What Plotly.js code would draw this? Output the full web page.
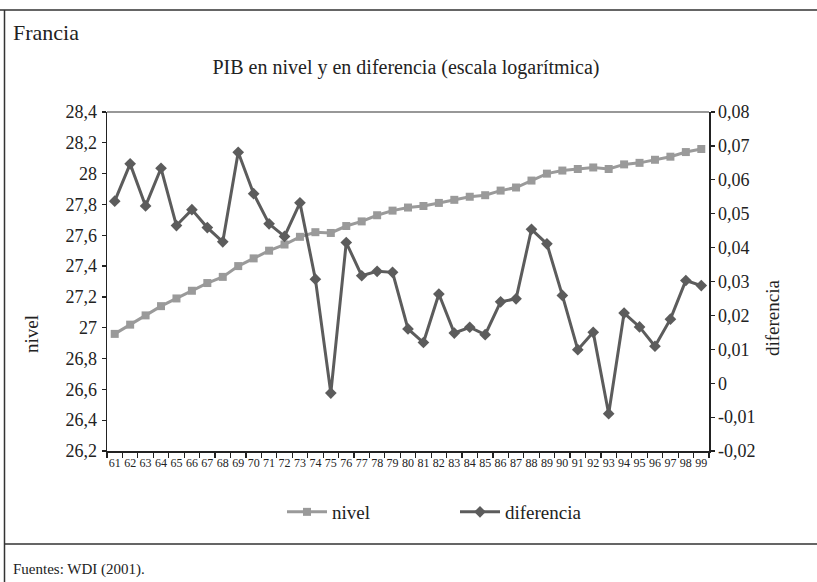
<!DOCTYPE html>
<html>
<head>
<meta charset="utf-8">
<script src="https://cdn.plot.ly/plotly-3.0.1.min.js"></script>
<style>
html,body{margin:0;padding:0;background:#fff;}
#chart{width:817px;height:582px;}
</style>
</head>
<body>
<div id="chart"></div>
<script>
const years = ['61','62','63','64','65','66','67','68','69','70','71','72','73','74','75','76','77','78','79','80',
  '81','82','83','84','85','86','87','88','89','90','91','92','93','94','95','96','97','98','99'];
const nivel = [26.96,27.02,27.08,27.14,27.19,27.24,27.29,27.33,27.40,27.45,27.50,27.54,27.59,27.62,27.615,
  27.66,27.69,27.73,27.76,27.78,27.79,27.81,27.83,27.85,27.86,27.89,27.91,27.955,28.00,28.02,28.03,28.04,
  28.03,28.06,28.07,28.09,28.11,28.14,28.16];
const diferencia = [0.0537,0.0647,0.0523,0.0634,0.0465,0.0512,0.0459,0.0417,0.0681,0.0559,0.0470,0.0433,
  0.0532,0.0307,-0.0029,0.0415,0.0317,0.0330,0.0327,0.0160,0.0120,0.0263,0.0148,0.0165,0.0143,0.0240,
  0.0249,0.0454,0.0411,0.0259,0.0099,0.0150,-0.0090,0.0207,0.0166,0.0109,0.0189,0.0303,0.0288];
const leftTicks = [26.2,26.4,26.6,26.8,27,27.2,27.4,27.6,27.8,28,28.2,28.4];
const leftLabels = ['26,2','26,4','26,6','26,8','27','27,2','27,4','27,6','27,8','28','28,2','28,4'];
const rightTicks = [-0.02,-0.01,0,0.01,0.02,0.03,0.04,0.05,0.06,0.07,0.08];
const rightLabels = ['-0,02','-0,01','0','0,01','0,02','0,03','0,04','0,05','0,06','0,07','0,08'];

const FONT = "Liberation Serif";
const TXT = '#222222';

// plot area in pixels
const L = 107, R = 709, T = 112, B = 451;
const W = R - L, H = B - T;
const px = x => (x - L) / W;
const py = y => (B - y) / H;

const traces = [
  {x: years, y: nivel, name: 'nivel', type: 'scatter', mode: 'lines+markers',
   line: {color: '#9a9a9a', width: 3}, marker: {symbol: 'square', size: 8, color: '#9a9a9a'},
   yaxis: 'y'},
  {x: years, y: diferencia, name: 'diferencia', type: 'scatter', mode: 'lines+markers',
   line: {color: '#5c5c5c', width: 3}, marker: {symbol: 'diamond', size: 9, color: '#5c5c5c'},
   yaxis: 'y2'}
];

const borderLine = {color: '#333333', width: 1.5};
const framePath = 'M' + px(0) + ',' + py(10) + ' L' + px(817) + ',' + py(10) +
  ' M' + px(4.5) + ',' + py(10) + ' L' + px(4.5) + ',' + py(582) +
  ' M' + px(4) + ',' + py(544) + ' L' + px(817) + ',' + py(544);

const layout = {
  width: 817, height: 582,
  margin: {l: L, r: 817 - R, t: T, b: 582 - B, pad: 0},
  paper_bgcolor: '#ffffff', plot_bgcolor: '#ffffff',
  font: {family: FONT, color: TXT, size: 18},
  showlegend: true,
  title: {text: 'PIB en nivel y en diferencia (escala logarítmica)', font: {family: FONT, size: 20, color: TXT},
    x: 406/817, xanchor: 'center', xref: 'container', y: 1 - 67/582, yanchor: 'middle', yref: 'container'},
  xaxis: {type: 'category', range: [-0.5, 38.5], tickson: 'boundaries', ticks: 'outside', ticklen: 5,
    tickcolor: '#222', tickwidth: 1.2, showline: true, linecolor: '#222', linewidth: 1.5, mirror: false,
    showgrid: false, zeroline: false, tickangle: 0, tickfont: {family: FONT, size: 12, color: TXT},
    fixedrange: true},
  yaxis: {range: [26.2, 28.4], tickvals: leftTicks, ticktext: leftLabels, ticks: 'outside', ticklen: 4,
    tickcolor: '#222', tickwidth: 1.2, showline: true, linecolor: '#222', linewidth: 1.5,
    showgrid: false, zeroline: false, tickfont: {family: FONT, size: 18, color: TXT}, ticklabelstandoff: 1},
  yaxis2: {range: [-0.02, 0.08], tickvals: rightTicks, ticktext: rightLabels, overlaying: 'y', side: 'right',
    ticks: 'outside', ticklen: 4, tickcolor: '#222', tickwidth: 1.2, showline: true, linecolor: '#222',
    linewidth: 1.5, showgrid: false, zeroline: false, tickfont: {family: FONT, size: 18, color: TXT}},
  legend: {orientation: 'h', x: px(282), xanchor: 'left', y: py(512), yanchor: 'middle',
    entrywidth: 118, entrywidthmode: 'pixels', itemwidth: 40, font: {family: FONT, size: 19, color: TXT},
    bgcolor: 'rgba(0,0,0,0)', borderwidth: 0, itemclick: false},
  shapes: [
    {type: 'path', xref: 'paper', yref: 'paper', path: framePath, line: borderLine},
    {type: 'line', xref: 'paper', yref: 'paper', x0: 0, x1: 1, y0: 1, y1: 1, line: {color: '#333', width: 1.2}}
  ],
  annotations: [
    {text: 'Francia', xref: 'paper', yref: 'paper', x: px(11), y: py(33), xanchor: 'left', yanchor: 'middle',
      showarrow: false, font: {family: FONT, size: 22, color: TXT}},
    {text: 'nivel', xref: 'paper', yref: 'paper', x: px(31), y: py(334), xanchor: 'center', yanchor: 'middle',
      textangle: -90, showarrow: false, font: {family: FONT, size: 19, color: TXT}},
    {text: 'diferencia', xref: 'paper', yref: 'paper', x: px(772), y: py(318), xanchor: 'center', yanchor: 'middle',
      textangle: -90, showarrow: false, font: {family: FONT, size: 19, color: TXT}},
    {text: 'Fuentes: WDI (2001).', xref: 'paper', yref: 'paper', x: px(11), y: py(569), xanchor: 'left', yanchor: 'middle',
      showarrow: false, font: {family: FONT, size: 15, color: TXT}}
  ]
};

Plotly.newPlot('chart', traces, layout, {displayModeBar: false, staticPlot: true});
</script>
</body>
</html>
